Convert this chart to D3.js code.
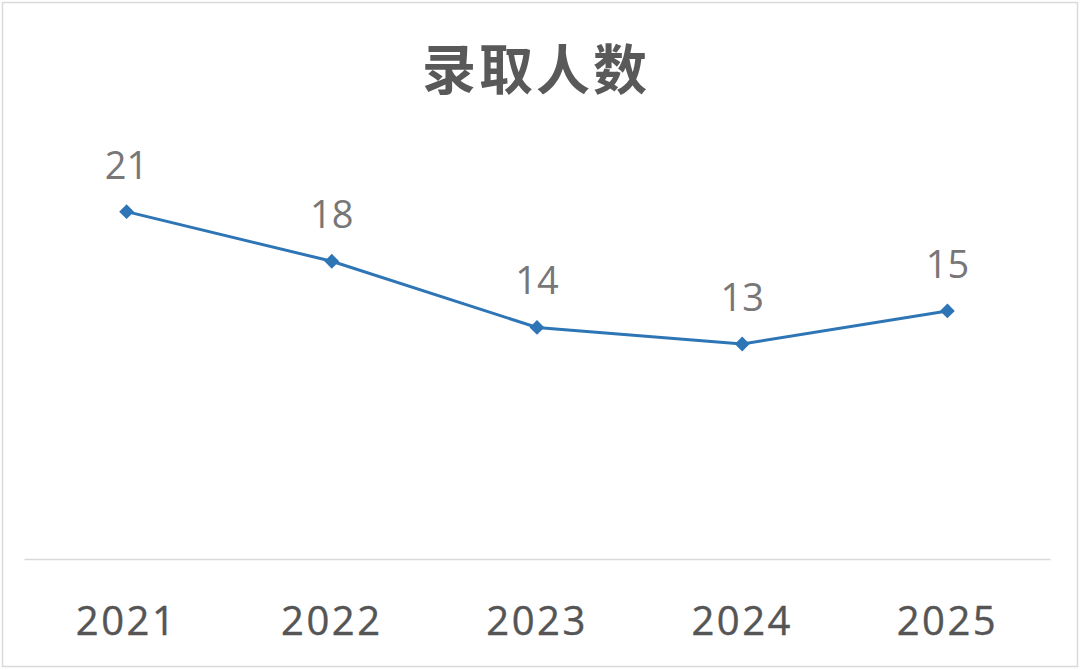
<!DOCTYPE html>
<html>
<head>
<meta charset="utf-8">
<script src="https://cdn.jsdelivr.net/npm/d3@7"></script>
<style>
  html, body { margin: 0; padding: 0; background: #fff; }
  svg { display: block; }
</style>
</head>
<body>
<svg id="chart" width="1080" height="670"></svg>
<script>
const title = "录取人数";
const categories = ["2021", "2022", "2023", "2024", "2025"];
const values = [21, 18, 14, 13, 15];
const yDomain = [0, 25];

const W = 1080, H = 670;
const margin = { left: 24, right: 30, top: 145.5, bottom: 111 };
const svg = d3.select("#chart");

svg.append("rect")
  .attr("x", 2.5).attr("y", 2.5)
  .attr("width", W - 5).attr("height", H - 6)
  .attr("fill", "#fff").attr("stroke", "#d9d9d9").attr("stroke-width", 1.5);

const x = d3.scaleBand().domain(categories).range([margin.left, W - margin.right]);
const y = d3.scaleLinear().domain(yDomain).range([H - margin.bottom, margin.top]);

svg.append("text")
  .attr("x", 536).attr("y", 90)
  .attr("text-anchor", "middle")
  .attr("font-family", "'Noto Sans CJK SC', sans-serif")
  .attr("font-weight", "bold")
  .attr("font-size", 54)
  .attr("letter-spacing", 3)
  .attr("fill", "#595959")
  .text(title);

// x axis
const xAxis = svg.append("g")
  .attr("transform", `translate(0,${y(0)})`)
  .call(d3.axisBottom(x).tickSize(0).tickPadding(0));
xAxis.select(".domain").attr("stroke", "#d9d9d9").attr("stroke-width", 1.5);
xAxis.selectAll("text")
  .attr("dy", 0)
  .attr("y", 76)
  .attr("font-family", "'Open Sans', sans-serif")
  .attr("font-size", 40)
  .attr("letter-spacing", 2.5)
  .attr("fill", "#555555")
  .attr("stroke", "#555555")
  .attr("stroke-width", 0.4);

const cx = d => x(d) + x.bandwidth() / 2;

const line = d3.line()
  .x((d, i) => cx(categories[i]))
  .y(d => y(d));

svg.append("path")
  .datum(values)
  .attr("d", line)
  .attr("fill", "none")
  .attr("stroke", "#2E75B6")
  .attr("stroke-width", 3);

svg.selectAll(".marker")
  .data(values)
  .join("path")
  .attr("class", "marker")
  .attr("d", d3.symbol().type(d3.symbolDiamond2).size(140))
  .attr("transform", (d, i) => `translate(${cx(categories[i])},${y(d)})`)
  .attr("fill", "#2E75B6");

svg.selectAll(".label")
  .data(values)
  .join("text")
  .attr("class", "label")
  .attr("x", (d, i) => cx(categories[i]))
  .attr("y", d => y(d) - 33)
  .attr("text-anchor", "middle")
  .attr("font-family", "'Open Sans', sans-serif")
  .attr("font-size", 38)
  .attr("fill", "#777777")
  .text(d => d);
</script>
</body>
</html>
